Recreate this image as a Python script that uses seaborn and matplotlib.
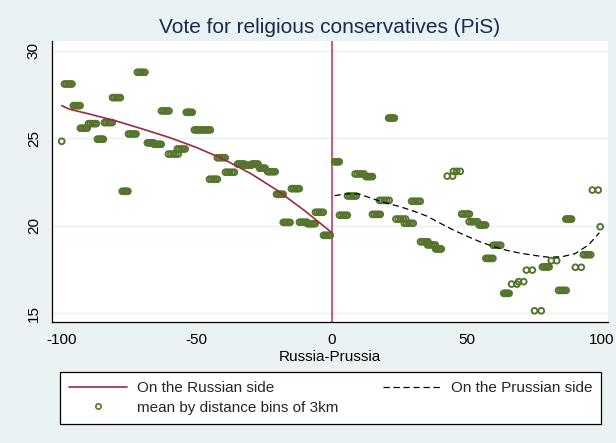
import numpy as np
import pandas as pd
import matplotlib
matplotlib.use("Agg")
import matplotlib.pyplot as plt
from matplotlib.lines import Line2D
import seaborn as sns

# distances (km) of the observations in each 3km bin, and the bin mean vote share
bin_dists = [
    [-100.0],
    [-99.0, -98.3, -97.6, -96.9, -96.2],
    [-95.7, -95.1, -94.4, -93.8, -93.2],
    [-93.1, -92.5, -91.8, -91.2, -90.6],
    [-90.1, -89.4, -88.6, -87.9, -87.2],
    [-86.8, -86.2, -85.7, -85.1, -84.6],
    [-84.2, -83.5, -82.7, -82.0, -81.3],
    [-81.2, -80.5, -79.7, -79.0, -78.3],
    [-77.6, -77.1, -76.5, -76.0, -75.5],
    [-75.3, -74.6, -73.9, -73.2, -72.5],
    [-72.0, -71.3, -70.6, -69.9, -69.2],
    [-68.3, -67.7, -67.2, -66.6, -66.0],
    [-65.8, -65.1, -64.5, -63.8, -63.2],
    [-63.1, -62.4, -61.7, -61.0, -60.3],
    [-60.5, -59.6, -58.7, -57.8, -56.9],
    [-57.2, -56.5, -55.7, -55.0, -54.3],
    [-53.9, -53.4, -52.8, -52.3, -51.7],
    [-50.9, -50.2, -49.6, -48.9, -48.2],
    [-47.8, -47.1, -46.4, -45.7, -45.0],
    [-45.3, -44.6, -43.8, -43.1, -42.4],
    [-42.4, -41.7, -40.9, -40.2, -39.5],
    [-39.4, -38.6, -37.8, -36.9, -36.1],
    [-34.9, -34.3, -33.6, -33.0, -32.4],
    [-32.2, -31.6, -31.0, -30.4, -29.8],
    [-29.6, -29.0, -28.5, -27.9, -27.3],
    [-26.8, -26.3, -25.7, -25.2, -24.7],
    [-23.8, -23.1, -22.4, -21.7, -21.0],
    [-20.5, -19.9, -19.2, -18.6, -18.0],
    [-18.0, -17.4, -16.8, -16.1, -15.5],
    [-15.0, -14.3, -13.6, -12.8, -12.1],
    [-12.0, -11.3, -10.6, -9.9, -9.2],
    [-9.0, -8.3, -7.6, -6.9, -6.2],
    [-6.1, -5.4, -4.7, -3.9, -3.2],
    [-3.1, -2.5, -1.9, -1.2, -0.6],
    [1.0, 1.4, 1.9, 2.3, 2.7],
    [2.8, 3.5, 4.3, 5.0, 5.7],
    [5.8, 6.6, 7.4, 8.2, 9.0],
    [8.6, 9.4, 10.3, 11.1, 11.9],
    [12.6, 13.2, 13.8, 14.4, 15.0],
    [15.0, 15.7, 16.5, 17.2, 17.9],
    [17.6, 18.5, 19.4, 20.3, 21.2],
    [21.0, 21.5, 22.1, 22.6, 23.1],
    [23.7, 24.6, 25.5, 26.4, 27.3],
    [26.8, 27.6, 28.5, 29.3, 30.1],
    [29.5, 30.3, 31.1, 31.9, 32.7],
    [32.8, 33.5, 34.2, 34.9, 35.6],
    [35.4, 36.1, 36.9, 37.6, 38.3],
    [38.4, 38.9, 39.5, 40.0, 40.5],
    [42.7, 44.7],
    [45.0, 46.2, 47.5],
    [48.0, 48.7, 49.5, 50.2, 50.9],
    [50.8, 51.6, 52.3, 53.1, 53.9],
    [54.5, 55.1, 55.7, 56.3, 56.9],
    [59.7, 60.4, 61.1, 61.8, 62.5],
    [57.0, 57.7, 58.3, 59.0, 59.6],
    [63.6, 64.1, 64.6, 65.1, 65.6],
    [66.5, 68.5],
    [69.1, 71.0],
    [72.0, 74.2],
    [75.0, 77.5],
    [77.9, 78.5, 79.2, 79.8, 80.4],
    [81.2, 83.2],
    [83.9, 84.6, 85.3, 86.0, 86.7],
    [86.6, 87.1, 87.7, 88.2, 88.7],
    [90.1, 92.3],
    [93.1, 93.8, 94.5, 95.1, 95.8],
    [96.4, 98.6],
    [99.3],
]
bin_means = [
    24.83, 28.11, 26.87, 25.58, 25.84, 24.95, 25.90, 27.33, 21.97, 25.25,
    28.78, 24.74, 24.66, 26.57, 24.10, 24.39, 26.49, 25.48, 25.48, 22.66,
    23.89, 23.06, 23.53, 23.46, 23.53, 23.29, 23.09, 21.80, 20.19, 22.12,
    20.20, 20.11, 20.77, 19.45,
    23.66, 20.60, 21.70, 22.96, 22.81, 20.65, 21.45, 26.16, 20.38, 20.14,
    21.40, 19.08, 18.90, 18.67, 22.84, 23.11, 20.67, 20.23, 20.04, 18.88,
    18.13, 16.13, 16.66, 16.80, 17.46, 15.13, 17.64, 18.00, 16.30, 20.38,
    17.62, 18.34, 22.04, 19.94,
]

# fitted polynomial on each side of the border
rus_x = [-100, -97, -90, -80, -70, -60, -50, -40, -30, -20, -10, 0]
rus_y = [26.87, 26.66, 26.40, 26.00, 25.53, 25.04, 24.47, 23.80, 22.98, 22.00, 20.85, 19.60]
pru_x = [1, 5, 10, 15, 20, 25, 30, 35, 40, 45, 50, 55, 60, 65, 70, 75, 80, 85, 90, 95, 99]
pru_y = [21.72, 21.82, 21.82, 21.55, 21.30, 21.10, 20.85, 20.56, 20.15, 19.75, 19.40,
         19.07, 18.80, 18.58, 18.42, 18.30, 18.20, 18.22, 18.40, 18.90, 19.60]

obs = pd.DataFrame({
    "dist": [d for ds in bin_dists for d in ds],
    "vote": [m for ds, m in zip(bin_dists, bin_means) for _ in ds],
})

bg = "#eaf2f3"
green = "#55752f"
maroon = "#9e2a3b"
vline = "#c8284f"

sns.set_theme(style="white")
plt.rcParams["font.family"] = ["Liberation Sans", "DejaVu Sans"]
plt.rcParams["axes.unicode_minus"] = False

fig = plt.figure(figsize=(6.16, 4.43), dpi=100)
fig.patch.set_facecolor(bg)
ax = fig.add_axes([52 / 616, 1 - 322 / 443, 556 / 616, 281 / 443])
ax.set_facecolor("white")

for yv in [15, 20, 25, 30]:
    ax.axhline(yv, color=bg, lw=1, zorder=0)
ax.axvline(0, color=vline, lw=1.1, zorder=1)

sns.scatterplot(data=obs, x="dist", y="vote", ax=ax, color=green, s=17,
                marker="o", linewidth=1.4, zorder=2, legend=False)
pts = ax.collections[-1]
pts.set_facecolor("none")
pts.set_edgecolor(green)

sns.lineplot(x=rus_x, y=rus_y, ax=ax, color=maroon, lw=1.2, zorder=3)
sns.lineplot(x=pru_x, y=pru_y, ax=ax, color="black", lw=0.9,
             linestyle=(0, (5, 3)), zorder=3)

ax.set_xlim(-103.6, 102.2)
ax.set_ylim(14.49, 30.57)
ax.set_xticks([-100, -50, 0, 50, 100])
ax.set_yticks([15, 20, 25, 30])
ax.set_yticklabels(["15", "20", "25", "30"], rotation=90, va="center")
ax.tick_params(axis="both", direction="out", length=5, width=0.8, labelsize=11,
               color="black", pad=3, labelcolor="black")
for side in ["top", "right"]:
    ax.spines[side].set_visible(False)
for side in ["left", "bottom"]:
    ax.spines[side].set_color("black")
    ax.spines[side].set_linewidth(0.9)

ax.set_xlabel("Russia-Prussia", fontsize=11, color="black", labelpad=2)
ax.set_ylabel("")
ax.set_title("Vote for religious conservatives (PiS)", fontsize=15,
             color="#1a2a50", pad=6)

handles = [
    Line2D([], [], color=maroon, lw=1.2),
    Line2D([], [], ls="none", marker="o", ms=3.8, mfc="none", mec=green, mew=1.2),
    Line2D([], [], color="black", lw=0.9, linestyle=(0, (5, 3))),
]
labels = ["On the Russian side", "mean by distance bins of 3km", "On the Prussian side"]
leg = fig.legend(handles, labels, ncol=2, loc="upper left",
                 bbox_to_anchor=(60 / 616, 1 - 372 / 443), borderaxespad=0,
                 fontsize=11, frameon=True, fancybox=False, handlelength=3.8,
                 handletextpad=0.65, columnspacing=2.9, borderpad=0.6,
                 labelspacing=0.35)
leg.get_frame().set_edgecolor("black")
leg.get_frame().set_linewidth(0.9)
leg.get_frame().set_facecolor("white")
leg.get_frame().set_alpha(1)

fig.savefig("out.png", dpi=100, facecolor=fig.get_facecolor())
